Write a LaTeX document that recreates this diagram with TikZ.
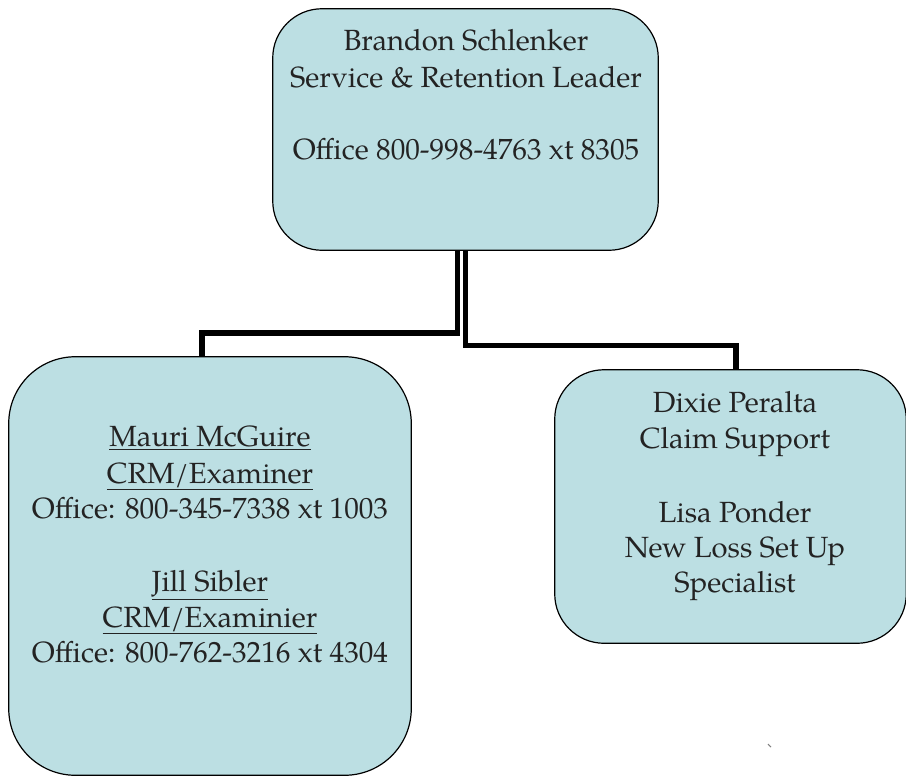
\documentclass[tikz,border=0pt]{standalone}
\usepackage{fontspec}
\setmainfont{TeX Gyre Pagella}
\definecolor{boxfill}{RGB}{188,223,227}
\definecolor{txt}{RGB}{35,35,35}
\begin{document}
\begin{tikzpicture}[x=0.75pt,y=-0.75pt,
  orgbox/.style={draw=black,line width=0.9pt,fill=boxfill,rectangle,inner sep=0pt},
  conn/.style={draw=black,line width=3.9pt},
  ln/.style={anchor=base,inner sep=0pt,text=txt,font=\fontsize{21.9}{27}\selectfont}]
\useasboundingbox (0,0) rectangle (906,776);
% connector coordinates
\coordinate (lv) at (457.5,333);
\coordinate (lh) at (202,333);
\coordinate (rv) at (465.5,345.5);
\coordinate (rh) at (736,345.5);
% boxes (named)
\path (465.5,129.5) node[minimum width=385*0.75pt,minimum height=241*0.75pt,inner sep=0pt] (top) {};
\path (210,566) node[minimum width=402*0.75pt,minimum height=418*0.75pt,inner sep=0pt] (left) {};
\path (730.5,506.5) node[minimum width=351*0.75pt,minimum height=273*0.75pt,inner sep=0pt] (right) {};
% connectors
\draw[conn] (top.south -| lv) -- (lv) -- (lh) -- (lh |- left.north);
\draw[conn] (top.south -| rv) -- (rv) -- (rh) -- (rh |- right.north);
% box outlines
\draw[orgbox,rounded corners=37pt] (top.south west) rectangle (top.north east);
\draw[orgbox,rounded corners=50pt] (left.south west) rectangle (left.north east);
\draw[orgbox,rounded corners=37pt] (right.south west) rectangle (right.north east);
% top text
\node[ln] (t1) at (466,50.7) {Brandon Schlenker};
\node[ln] (t2) at (466,87.3) {Service \& Retention Leader};
\node[ln] (t3) at (466,159.3) {Office 800-998-4763 xt 8305};
% left text
\node[ln] (l1) at (210,446.7) {\underline{Mauri McGuire}};
\node[ln] (l2) at (210,483.3) {\underline{CRM/Examiner}};
\node[ln] (l3) at (210,518.3) {Office: 800-345-7338 xt 1003};
\node[ln] (l4) at (210,591.7) {\underline{Jill Sibler}};
\node[ln] (l5) at (210,627.3) {\underline{CRM/Examinier}};
\node[ln] (l6) at (210,662.7) {Office: 800-762-3216 xt 4304};
% right text
\node[ln] (r1) at (735,412) {Dixie Peralta};
\node[ln] (r2) at (735,448.5) {Claim Support};
\node[ln] (r3) at (735,522) {Lisa Ponder};
\node[ln] (r4) at (735,557) {New Loss Set Up};
\node[ln] (r5) at (735,592) {Specialist};
% small stray mark
\coordinate (m1) at (768,744);
\coordinate (m2) at (771,747);
\draw[gray,line width=0.8pt] (m1) -- (m2);
\end{tikzpicture}
\end{document}
